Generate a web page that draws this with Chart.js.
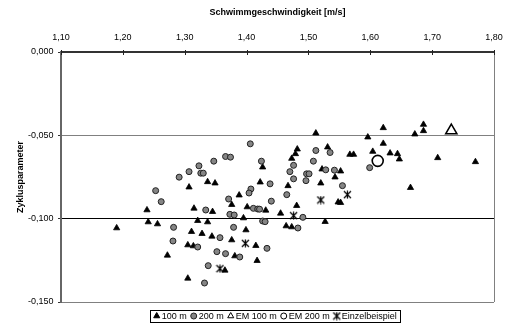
<!DOCTYPE html>
<html>
<head>
<meta charset="utf-8">
<script src="https://cdn.jsdelivr.net/npm/chart.js@4.4.1/dist/chart.umd.min.js"></script>
<style>
  html, body { margin: 0; padding: 0; background: #fff; }
  #chart { display: block; }
</style>
</head>
<body>
<canvas id="chart" width="505" height="329"></canvas>
<script>
// Axis ticks
const xTickValues = [1.1, 1.2, 1.3, 1.4, 1.5, 1.6, 1.7, 1.8];
const xTickLabels = ['1,10', '1,20', '1,30', '1,40', '1,50', '1,60', '1,70', '1,80'];
const yTickValues = [-0.15, -0.1, -0.05, 0];
const yTickLabels = ['-0,150', '-0,100', '-0,050', '0,000'];

// 100 m
const tri100X = [1.512, 1.482, 1.531, 1.479, 1.473, 1.426, 1.522, 1.552, 1.621, 1.686,
  1.686, 1.672, 1.596, 1.621, 1.604, 1.632, 1.644, 1.647, 1.567, 1.573,
  1.709, 1.770, 1.665, 1.552, 1.337, 1.307, 1.239, 1.315, 1.241, 1.256,
  1.321, 1.337, 1.190, 1.311, 1.328, 1.305, 1.314, 1.272, 1.305, 1.349,
  1.422, 1.520, 1.467, 1.543, 1.388, 1.548, 1.376, 1.481, 1.401, 1.431,
  1.345, 1.455, 1.395, 1.527, 1.464, 1.473, 1.399, 1.344, 1.376, 1.415,
  1.381, 1.417, 1.365];
const tri100Y = [-0.0487, -0.0583, -0.0571, -0.0611, -0.0639, -0.0691, -0.0703, -0.0715, -0.0455, -0.0435,
  -0.0473, -0.0493, -0.0511, -0.0549, -0.0597, -0.0607, -0.0611, -0.0643, -0.0615, -0.0615,
  -0.0635, -0.0659, -0.0814, -0.0904, -0.0779, -0.0811, -0.0948, -0.0938, -0.1020, -0.1032,
  -0.1012, -0.1020, -0.1056, -0.1078, -0.1090, -0.1158, -0.1164, -0.1220, -0.1358, -0.0787,
  -0.0781, -0.0787, -0.0803, -0.0751, -0.0859, -0.0901, -0.0916, -0.0922, -0.0930, -0.0950,
  -0.0958, -0.0968, -0.0996, -0.1018, -0.1044, -0.1050, -0.1068, -0.1106, -0.1128, -0.1162,
  -0.1224, -0.1252, -0.1310];

// 200 m
const circ200X = [1.406, 1.512, 1.535, 1.366, 1.374, 1.347, 1.424, 1.508, 1.323, 1.476,
  1.528, 1.542, 1.599, 1.555, 1.307, 1.291, 1.326, 1.330, 1.253, 1.262,
  1.334, 1.282, 1.281, 1.321, 1.338, 1.332, 1.470, 1.497, 1.501, 1.476,
  1.438, 1.496, 1.407, 1.404, 1.465, 1.371, 1.440, 1.411, 1.418, 1.421,
  1.373, 1.380, 1.491, 1.426, 1.430, 1.483, 1.379, 1.357, 1.433, 1.352,
  1.366, 1.389];
const circ200Y = [-0.0551, -0.0591, -0.0603, -0.0627, -0.0631, -0.0655, -0.0655, -0.0655, -0.0683, -0.0680,
  -0.0707, -0.0709, -0.0694, -0.0802, -0.0718, -0.0751, -0.0727, -0.0727, -0.0832, -0.0898,
  -0.0948, -0.1052, -0.1134, -0.1170, -0.1282, -0.1386, -0.0718, -0.0731, -0.0731, -0.0761,
  -0.0791, -0.0772, -0.0822, -0.0846, -0.0856, -0.0882, -0.0895, -0.0938, -0.0942, -0.0943,
  -0.0974, -0.0978, -0.0992, -0.1014, -0.1018, -0.1056, -0.1052, -0.1114, -0.1178, -0.1198,
  -0.1210, -0.1230];

// EM results and single example
const em100X = [1.731];
const em100Y = [-0.0471];
const em200X = [1.612];
const em200Y = [-0.0653];
const einzelX = [1.520, 1.563, 1.476, 1.398, 1.357];
const einzelY = [-0.0888, -0.0856, -0.0982, -0.1148, -0.1300];

const FONT = 'Arial, "Liberation Sans", sans-serif';
Chart.defaults.font.family = FONT;
Chart.defaults.color = '#000';

function toPoints(xs, ys) {
    return xs.map((x, i) => ({ x: x, y: ys[i] }));
}

// Excel style star marker: X with a vertical stroke
function makeStar(size) {
    const c = document.createElement('canvas');
    c.width = size;
    c.height = size;
    const g = c.getContext('2d');
    g.strokeStyle = '#000';
    g.lineWidth = 1.2;
    const h = size / 2;
    g.beginPath();
    g.moveTo(1, 1); g.lineTo(size - 1, size - 1);
    g.moveTo(size - 1, 1); g.lineTo(1, size - 1);
    g.moveTo(h, 0.5); g.lineTo(h, size - 0.5);
    g.stroke();
    return c;
}
const starImg = makeStar(9);

const gridColors = { '0': '#333333', '-0.05': '#808080', '-0.1': '#000000', '-0.15': '#808080' };

// no extra room for half tick labels, the plot edges are fixed
function noScalePadding(s) {
    s.paddingLeft = 0;
    s.paddingRight = 0;
    s.paddingTop = 0;
    s.paddingBottom = 0;
}

// Tick marks on the top axis, right frame line, boxed legend
const framePlugin = {
    id: 'frame',
    afterDraw(chart) {
        const ctx = chart.ctx;
        const area = chart.chartArea;
        const xs = chart.scales.x;
        ctx.save();
        ctx.strokeStyle = '#808080';
        ctx.lineWidth = 1;
        ctx.beginPath();
        ctx.moveTo(Math.round(area.right) + 0.5, area.top);
        ctx.lineTo(Math.round(area.right) + 0.5, area.bottom);
        ctx.stroke();

        ctx.strokeStyle = '#222';
        ctx.beginPath();
        xTickValues.forEach(v => {
            const px = Math.round(xs.getPixelForValue(v)) + 0.5;
            ctx.moveTo(px, area.top - 2);
            ctx.lineTo(px, area.top + 3);
        });
        ctx.stroke();

        // legend
        ctx.font = '9px ' + FONT;
        ctx.textBaseline = 'middle';
        ctx.textAlign = 'left';
        const markW = 8.5, gap = 3.5, padX = 3;
        const items = chart.data.datasets.map(ds => ({ ds: ds, w: ctx.measureText(ds.label).width }));
        const total = items.reduce((s, it) => s + markW + it.w, 0) + gap * (items.length - 1);
        let x = 275 - total / 2;
        const top = 310, h = 12, mid = top + h / 2;
        ctx.strokeStyle = '#000';
        ctx.strokeRect(Math.round(x - padX) + 0.5, top + 0.5, Math.round(total + 2 * padX), h);
        items.forEach(it => {
            const ds = it.ds;
            const cx = x + 3.5;
            ctx.fillStyle = ds.backgroundColor;
            ctx.strokeStyle = ds.borderColor || '#000';
            ctx.lineWidth = 1;
            Chart.helpers.drawPoint(ctx, {
                pointStyle: ds.pointStyle,
                radius: ds.legendRadius,
                rotation: 0,
                borderWidth: 1
            }, cx, mid);
            ctx.fillStyle = '#000';
            ctx.fillText(ds.label, x + markW, mid + 0.5);
            x += markW + it.w + gap;
        });
        ctx.restore();
    }
};

new Chart(document.getElementById('chart'), {
    type: 'scatter',
    data: {
        datasets: [
            {
                label: '100 m',
                data: toPoints(tri100X, tri100Y),
                pointStyle: 'triangle',
                pointRadius: 3.6,
                backgroundColor: '#000',
                borderColor: '#000',
                borderWidth: 0.8,
                legendRadius: 3.5,
                order: 5
            },
            {
                label: '200 m',
                data: toPoints(circ200X, circ200Y),
                pointStyle: 'circle',
                pointRadius: 3,
                backgroundColor: '#858585',
                borderColor: '#222',
                borderWidth: 1,
                legendRadius: 3,
                order: 4
            },
            {
                label: 'EM 100 m',
                data: toPoints(em100X, em100Y),
                pointStyle: 'triangle',
                pointRadius: 6.5,
                backgroundColor: '#fff',
                borderColor: '#000',
                borderWidth: 1.5,
                legendRadius: 3.5,
                order: 3
            },
            {
                label: 'EM 200 m',
                data: toPoints(em200X, em200Y),
                pointStyle: 'circle',
                pointRadius: 5.5,
                backgroundColor: '#fff',
                borderColor: '#000',
                borderWidth: 1.6,
                legendRadius: 3,
                order: 2
            },
            {
                label: 'Einzelbeispiel',
                data: toPoints(einzelX, einzelY),
                pointStyle: starImg,
                backgroundColor: '#000',
                borderColor: '#000',
                legendRadius: 4,
                order: 1
            }
        ]
    },
    options: {
        responsive: false,
        animation: false,
        devicePixelRatio: 1,
        layout: { padding: { left: 0, right: 11, top: 0, bottom: 27 } },
        plugins: {
            legend: { display: false },
            tooltip: { enabled: false }
        },
        scales: {
            x: {
                type: 'linear',
                position: 'top',
                min: 1.1,
                max: 1.8,
                afterBuildTicks: s => { s.ticks = xTickValues.map(v => ({ value: v })); },
                afterFit: s => { s.height = 52; noScalePadding(s); },
                ticks: {
                    font: { size: 9 },
                    padding: 9.5,
                    maxRotation: 0,
                    callback: (v, i) => xTickLabels[i]
                },
                grid: { drawOnChartArea: false, drawTicks: false },
                border: { display: true, color: '#333', width: 2 },
                title: {
                    display: true,
                    text: 'Schwimmgeschwindigkeit [m/s]',
                    font: { size: 9, weight: 'bold' },
                    padding: { top: 7.3, bottom: 0 }
                }
            },
            y: {
                type: 'linear',
                min: -0.15,
                max: 0,
                afterBuildTicks: s => { s.ticks = yTickValues.map(v => ({ value: v })); },
                afterFit: s => { s.width = 61; noScalePadding(s); },
                ticks: {
                    font: { size: 9 },
                    padding: 4.5,
                    callback: (v, i) => yTickLabels[i]
                },
                grid: {
                    drawTicks: true,
                    tickLength: 3,
                    tickColor: '#333',
                    color: c => gridColors[String(Math.round(c.tick.value * 100) / 100)] || '#000'
                },
                border: { display: true, color: '#666', width: 2 },
                title: {
                    display: true,
                    text: 'Zyklusparameter',
                    font: { size: 9, weight: 'bold' },
                    padding: { top: 15.6, bottom: 0 }
                }
            }
        }
    },
    plugins: [framePlugin]
});
</script>
</body>
</html>
